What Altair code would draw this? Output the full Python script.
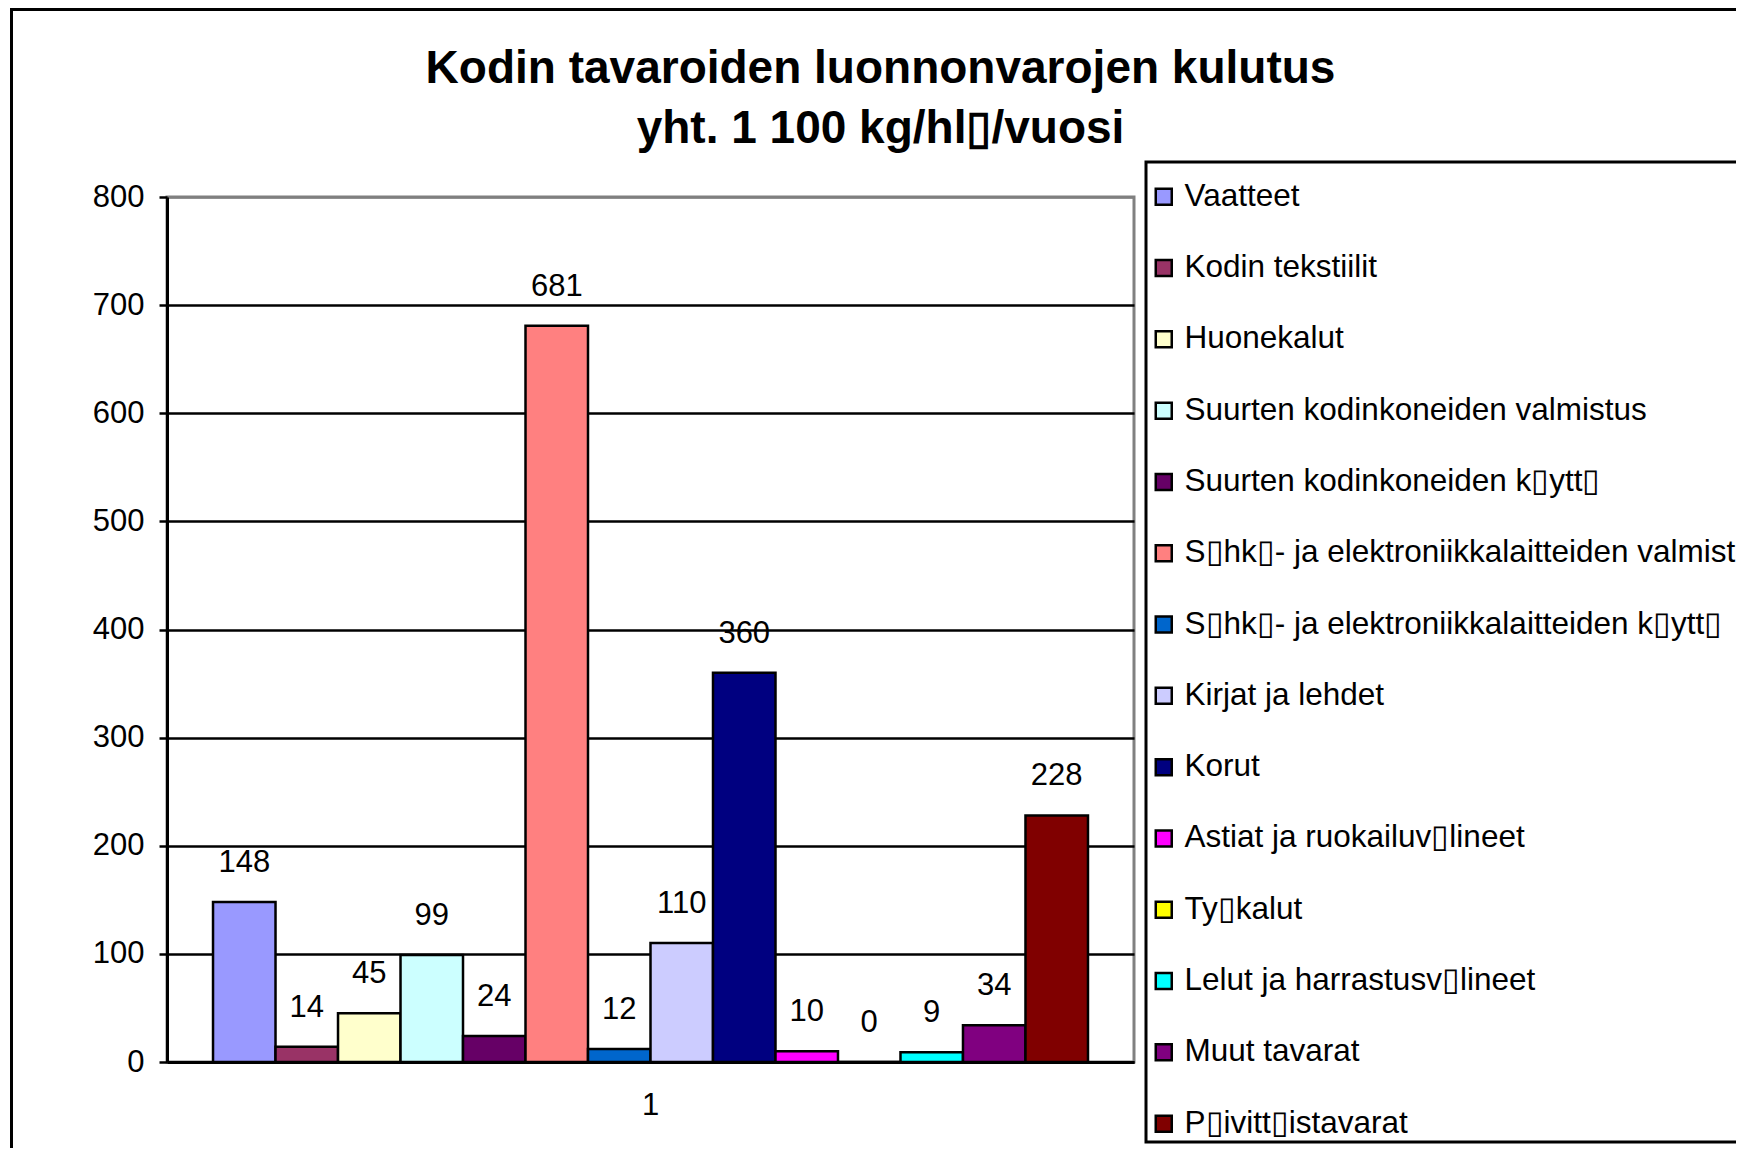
import altair as alt
import pandas as pd

T = "\u25af"
names = [
    "Vaatteet",
    "Kodin tekstiilit",
    "Huonekalut",
    "Suurten kodinkoneiden valmistus",
    f"Suurten kodinkoneiden k{T}ytt{T}",
    f"S{T}hk{T}- ja elektroniikkalaitteiden valmistus",
    f"S{T}hk{T}- ja elektroniikkalaitteiden k{T}ytt{T}",
    "Kirjat ja lehdet",
    "Korut",
    f"Astiat ja ruokailuv{T}lineet",
    f"Ty{T}kalut",
    f"Lelut ja harrastusv{T}lineet",
    "Muut tavarat",
    f"P{T}ivitt{T}istavarat",
]
values = [148, 14, 45, 99, 24, 681, 12, 110, 360, 10, 0, 9, 34, 228]
colors = ["#9999FF", "#993366", "#FFFFCC", "#CCFFFF", "#660066", "#FF8080", "#0066CC",
          "#CCCCFF", "#000080", "#FF00FF", "#FFFF00", "#00FFFF", "#800080", "#800000"]
category = ["1"] * len(names)
y_ticks = [0, 100, 200, 300, 400, 500, 600, 700, 800]
title_lines = ["Kodin tavaroiden luonnonvarojen kulutus", f"yht. 1 100 kg/hl{T}/vuosi"]

df = pd.DataFrame({"cat": category, "name": names, "value": values})

FONT = "Liberation Sans"

x_enc = alt.X("cat:N", title=None,
              scale=alt.Scale(paddingInner=0, paddingOuter=0.0526),
              axis=alt.Axis(labelAngle=0, ticks=False, grid=False, labelFont=FONT,
                            labelFontSize=31, labelColor="black", labelPadding=28,
                            domainColor="black", domainWidth=3))
xo_enc = alt.XOffset("name:N", sort=names, scale=alt.Scale(paddingInner=0, paddingOuter=0))
y_enc = alt.Y("value:Q", title=None,
              scale=alt.Scale(domain=[0, 800], nice=False),
              axis=alt.Axis(values=y_ticks, format="d", labelFont=FONT, labelFontSize=31,
                            labelColor="black", labelPadding=15, tickSize=8,
                            tickColor="black", tickWidth=2.5, domainColor="black",
                            domainWidth=3,
                            gridColor={"condition": {"test": "datum.value === 800", "value": "#808080"},
                                       "value": "black"},
                            gridWidth=2.5))

bars = alt.Chart(df).mark_bar(stroke="black", strokeWidth=2.5).encode(
    x=x_enc, xOffset=xo_enc, y=y_enc,
    color=alt.Color("name:N", sort=names,
                    scale=alt.Scale(domain=names, range=colors),
                    legend=alt.Legend(title=" ", titleFontSize=1, titlePadding=16,
                                      orient="none", legendX=979, legendY=-35,
                                      direction="vertical", symbolType="square",
                                      symbolSize=256, symbolStrokeColor="black",
                                      symbolStrokeWidth=2.5, labelFont=FONT,
                                      labelFontSize=31.5, labelColor="black", labelLimit=3000,
                                      rowPadding=38.3, labelOffset=5, padding=2,
                                      strokeColor="black", fillColor="white")),
)

labels = alt.Chart(df).mark_text(dy=-39, baseline="middle", fontSize=31, font=FONT,
                                 color="black").encode(
    x=x_enc, xOffset=xo_enc, y=alt.Y("value:Q"), text=alt.Text("value:Q"))

frame = alt.Chart(pd.DataFrame({"k": [0]})).mark_rule(color="black", strokeWidth=3).encode(
    x=alt.value(-155.5), y=alt.value(-190), y2=alt.value(960))
frame_top = alt.Chart(pd.DataFrame({"k": [0]})).mark_rule(color="black", strokeWidth=3).encode(
    x=alt.value(-157), x2=alt.value(1600), y=alt.value(-187.5))

chart = alt.layer(frame, frame_top, bars, labels).properties(
    width=967, height=865,
    padding={"left": 159, "top": 189, "right": 602, "bottom": 86},
    autosize=alt.AutoSizeParams(type="none"),
    background="white",
    title=alt.TitleParams(text=title_lines, font=FONT, fontSize=46, fontWeight="bold",
                          color="black", anchor="middle", frame="group", dx=230,
                          baseline="bottom", offset=0, dy=193, lineHeight=60),
).configure_view(stroke="#808080", strokeWidth=3).configure_legend(strokeWidth=3)

chart.save("out.html", embed_options={"renderer": "svg", "actions": False})
